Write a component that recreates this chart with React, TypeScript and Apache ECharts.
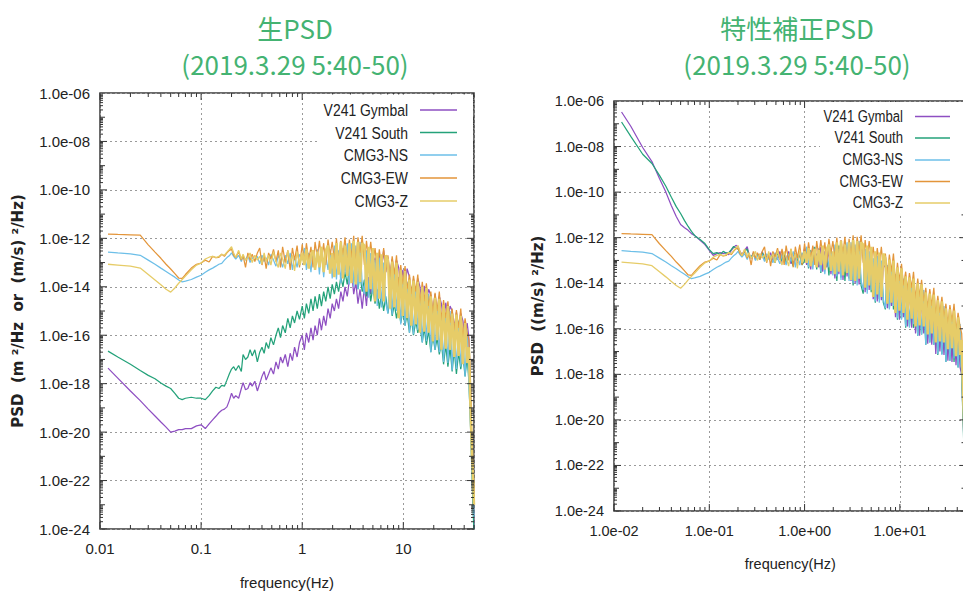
import React, { useEffect, useRef } from 'react';
import * as echarts from 'echarts';

// frequency (Hz)
const freq = [
  0.012, 0.015, 0.02, 0.025, 0.03, 0.035, 0.04, 0.045, 0.05, 0.055, 0.06, 0.065, 0.07, 0.08, 0.09, 0.1, 0.11, 0.12, 0.13, 0.14, 0.15, 0.16, 0.17, 0.18, 0.19,
  0.2, 0.21, 0.22, 0.235, 0.25, 0.26, 0.275, 0.29, 0.305, 0.32, 0.34, 0.36, 0.38, 0.4, 0.42, 0.44, 0.465, 0.49, 0.52, 0.55, 0.58, 0.61, 0.64, 0.68, 0.72, 0.76, 0.8, 0.84, 0.89, 0.94,
  1.0, 1.05, 1.1, 1.16, 1.22, 1.28, 1.34, 1.41,
  1.48, 1.55, 1.63, 1.71, 1.8, 1.89, 1.98,
  2.08, 2.18, 2.29, 2.41, 2.53, 2.65, 2.79, 2.93,
  3.07, 3.23, 3.39, 3.56, 3.73, 3.92,
  4.12, 4.32, 4.54, 4.76, 5.0,
  5.25, 5.52, 5.79, 6.08, 6.39, 6.7,
  7.04, 7.39, 7.76, 8.15, 8.56,
  8.99, 9.43, 9.9, 10.4, 10.9,
  11.5, 12.0, 12.6, 13.3, 13.9,
  14.6, 15.4, 16.1, 16.9, 17.8,
  18.7, 19.6, 20.6, 21.6, 22.7,
  23.8, 25.0, 26.3, 27.6, 29.0,
  30.4, 31.9, 33.5, 35.2, 37.0,
  38.8, 40.8, 42.8,
  44.5, 46.0, 47.0, 47.8, 48.5, 49.0, 49.5, 50,
];

// 生PSD: V241 Gymbal
const rawGymbal = [
  4.4e-18, 1.7e-18, 5e-19, 2e-19, 8.9e-20, 4.6e-20, 2.6e-20, 1.6e-20, 1e-20, 1.1e-20, 1.26e-20, 1.26e-20, 1.4e-20, 1.4e-20, 1.8e-20, 2e-20, 1.4e-20, 2.2e-20, 3.2e-20, 4.5e-20, 6.3e-20, 8e-20, 8.9e-20, 1.1e-19, 2e-19,
  4e-19, 2.5e-19, 3.2e-19, 2.5e-19, 6.3e-19, 1.1e-18, 5.6e-19, 6.3e-19, 1.1e-18, 7.9e-19, 1.26e-18, 5e-19, 1e-18, 2e-18, 3.2e-18, 1.4e-18, 2.5e-18, 4.5e-18, 2.5e-18, 7.9e-18, 4e-18, 1.26e-17, 7.1e-18, 1.6e-17, 5e-18, 1.8e-17, 8.9e-18, 3.2e-17, 1.26e-17, 5e-17,
  1e-16, 2.5e-17, 1.26e-16, 5e-17, 2e-16, 6.3e-17, 2.5e-16, 1e-16,
  5e-16, 1.6e-16, 6.3e-16, 2.5e-16, 1.26e-15, 5e-16, 2e-15,
  1e-15, 3.2e-15, 1.26e-15, 6.3e-15, 2.5e-15, 1e-14, 4e-15, 2e-14,
  5e-14, 5e-15, 1.6e-14, 2e-15, 7.9e-15, 1.26e-15,
  1e-14, 1.6e-15, 2.5e-14, 5e-15, 6.3e-14,
  1.6e-13, 2.5e-14, 2.5e-13, 5e-14, 3.2e-13, 4e-14,
  1.6e-13, 3.2e-14, 1.4e-13, 2.5e-14, 1.26e-13,
  6.3e-14, 1.26e-14, 5e-14, 1e-14, 5.6e-14,
  2.5e-14, 5e-15, 2e-14, 4e-15, 2.2e-14,
  1e-14, 2e-15, 1.1e-14, 2.5e-15, 7.9e-15,
  4.5e-15, 1e-15, 5e-15, 7.9e-16, 4e-15,
  2e-15, 4e-16, 2.2e-15, 5e-16, 1.6e-15,
  1e-15, 2e-16, 8.9e-16, 1.6e-16, 7.9e-16,
  4e-16, 7.9e-17, 3.2e-16,
  7.9e-17, 1e-18, 1.6e-20, 1e-21, 1e-22, 1.6e-23, 3.2e-24, 1e-24,
];

// 生PSD: V241 South
const rawSouth = [
  2.2e-17, 1.26e-17, 6.3e-18, 3.5e-18, 2.2e-18, 1.6e-18, 1.07e-18, 7.9e-19, 6.3e-19, 4e-19, 2.5e-19, 2.2e-19, 2.5e-19, 2.75e-19, 2.5e-19, 2.5e-19, 2.2e-19, 3.2e-19, 5e-19, 7.1e-19, 6.3e-19, 8.5e-19, 7.9e-19, 1.4e-18, 2.5e-18,
  4e-18, 5e-18, 3.5e-18, 5.6e-18, 3.2e-18, 1.6e-17, 1e-17, 1.26e-17, 2.5e-17, 1.4e-17, 2.5e-17, 7.9e-18, 2e-17, 3.2e-17, 1.8e-17, 5e-17, 2.8e-17, 7.9e-17, 4e-17, 1e-16, 2e-16, 7.9e-17, 2.5e-16, 1.26e-16, 5e-16, 2e-16, 6.3e-16, 3.2e-16, 1e-15, 4.5e-16,
  1.6e-15, 5e-16, 2e-15, 7.9e-16, 3.2e-15, 1e-15, 4e-15, 1.26e-15,
  5e-15, 1.6e-15, 6.3e-15, 2.5e-15, 1e-14, 3.2e-15, 1.26e-14,
  5e-15, 1.6e-14, 6.3e-15, 2.5e-14, 1e-14, 4e-14, 1.26e-14, 6.3e-14,
  1.26e-13, 1.6e-14, 6.3e-14, 7.9e-15, 3.2e-14, 6.3e-15,
  2e-14, 4e-15, 1.6e-14, 2.5e-15, 1e-14,
  2e-15, 7.9e-15, 1.26e-15, 5e-15, 1e-15, 4e-15,
  7.9e-16, 3.2e-15, 6.3e-16, 2e-15, 5e-16,
  1.6e-15, 3.2e-16, 1e-15, 2.5e-16, 7.9e-16,
  1.26e-16, 5e-16, 1e-16, 4e-16, 1.26e-16,
  2.5e-16, 5e-17, 2e-16, 4e-17, 1.6e-16,
  2e-17, 1e-16, 2.5e-17, 7.9e-17, 1.6e-17,
  5e-17, 6.3e-18, 4e-17, 5e-18, 3.2e-17,
  3.2e-18, 2.5e-17, 2.5e-18, 2e-17, 4e-18,
  1.6e-17, 2e-18, 1.26e-17,
  1.26e-18, 3.2e-20, 1.6e-21, 1.6e-22, 2.5e-23, 6.3e-24, 2e-24, 1e-24,
];

// 特性補正PSD: V241 Gymbal
const corGymbal = [
  3.3e-7, 7.8e-8, 9.1e-9, 2.2e-9, 4e-10, 1e-10, 2.5e-11, 8.5e-12, 3.8e-12, 2.75e-12, 2.1e-12, 1.5e-12, 1.26e-12, 7.6e-13, 5e-13, 2.75e-13, 1.66e-13, 2e-13, 2.2e-13, 2e-13, 2.2e-13, 1.8e-13, 2.75e-13, 3.7e-13, 4.6e-13,
  4e-13, 2.5e-13, 1.8e-13, 2.8e-13, 4e-13, 2e-13, 1.26e-13, 2.2e-13, 1.1e-13, 2e-13, 1.4e-13, 2.5e-13, 1e-13, 1.8e-13, 1.26e-13, 2.2e-13, 8.9e-14, 2e-13, 1.1e-13, 2.5e-13, 7.9e-14, 1.8e-13, 1.1e-13, 2.5e-13, 7.1e-14, 2e-13, 1.26e-13, 6.3e-14, 2.5e-13, 1e-13,
  3.2e-13, 6.3e-14, 2.5e-13, 4e-14, 4e-13, 7.9e-14, 2e-13, 5e-14,
  4e-13, 3.2e-14, 2.5e-13, 5e-14, 3.2e-13, 2.5e-14, 2e-13,
  1.6e-14, 4e-13, 2.5e-14, 5e-13, 1.4e-14, 3.2e-13, 2e-14, 4e-13,
  1.26e-14, 5e-13, 1e-14, 4e-13, 8.9e-15, 3.2e-13,
  2.5e-13, 4e-15, 2e-13, 5e-15, 1.6e-13,
  2e-15, 1e-13, 1.6e-15, 7.9e-14, 1.8e-15, 6.3e-14,
  5e-14, 7.9e-16, 4e-14, 1e-15, 3.2e-14,
  3.2e-16, 1.6e-14, 2.5e-16, 1.26e-14, 3.2e-16,
  7.9e-15, 1.26e-16, 6.3e-15, 1.1e-16, 5e-15,
  6.3e-17, 3.2e-15, 5e-17, 2.5e-15, 6.3e-17,
  1.26e-15, 2.2e-17, 1e-15, 2e-17, 7.9e-16,
  7.9e-18, 5e-16, 1e-17, 4e-16, 7.1e-18,
  2.5e-16, 4e-18, 2e-16, 3.5e-18, 1.6e-16,
  2.5e-18, 1e-16, 2e-18,
  1e-18, 1.6e-20, 1e-21, 1e-22, 1.6e-23, 4e-24, 1.6e-24, 1e-24,
];

// 特性補正PSD: V241 South
const corSouth = [
  1.2e-7, 2.8e-8, 4.6e-9, 1.8e-9, 5.4e-10, 1.8e-10, 5.9e-11, 2.3e-11, 1.15e-11, 5.6e-12, 3.1e-12, 1.9e-12, 1.26e-12, 8.3e-13, 5.5e-13, 3e-13, 2e-13, 2.2e-13, 1.8e-13, 2.5e-13, 2.1e-13, 2.2e-13, 3e-13, 4.1e-13, 3.5e-13,
  3.2e-13, 2.2e-13, 1.6e-13, 2.5e-13, 3.2e-13, 1.6e-13, 1.4e-13, 2e-13, 1.26e-13, 1.8e-13, 1.1e-13, 2.2e-13, 1.4e-13, 1e-13, 2e-13, 1.26e-13, 1.8e-13, 7.9e-14, 2.2e-13, 1.26e-13, 1e-13, 2.2e-13, 7.1e-14, 1.6e-13, 1.1e-13, 5.6e-14, 2e-13, 1e-13, 1.8e-13, 6.3e-14,
  1e-13, 3.5e-13, 4.5e-14, 2.8e-13, 6.3e-14, 4e-13, 4e-14, 2.5e-13,
  2.8e-14, 3.5e-13, 4e-14, 2.5e-13, 2.2e-14, 3.2e-13, 3.2e-14,
  3.2e-13, 1.26e-14, 4.5e-13, 1.8e-14, 2.5e-13, 1.26e-14, 3.5e-13, 1.6e-14,
  4e-13, 7.9e-15, 3.2e-13, 1.1e-14, 2.5e-13, 7.9e-15,
  3.5e-15, 2e-13, 5e-15, 1.26e-13, 4e-15,
  7.9e-14, 1.4e-15, 1e-13, 2e-15, 6.3e-14, 1.4e-15,
  7.1e-16, 4e-14, 7.9e-16, 3.2e-14, 7.1e-16,
  2e-14, 2.5e-16, 1.26e-14, 2.8e-16, 1e-14,
  1.1e-16, 6.3e-15, 1.26e-16, 5e-15, 1.1e-16,
  2.5e-15, 5e-17, 2e-15, 5.6e-17, 1.6e-15,
  2e-17, 1e-15, 2.5e-17, 7.9e-16, 2e-17,
  4e-16, 7.1e-18, 3.2e-16, 7.9e-18, 3.2e-16,
  3.5e-18, 1.6e-16, 4e-18, 1.26e-16, 3.5e-18,
  7.9e-17, 2e-18, 6.3e-17,
  7.9e-19, 1e-20, 5e-22, 6.3e-23, 1e-23, 3.2e-24, 1.26e-24, 1e-24,
];

// CMG3 (same in both panels)
const cmgNS = [
  2.7e-13, 2.5e-13, 2.3e-13, 2e-13, 1.26e-13, 8.5e-14, 5.9e-14, 4.3e-14, 3.2e-14, 2.5e-14, 1.9e-14, 1.6e-14, 1.7e-14, 2e-14, 2.5e-14, 3e-14, 4e-14, 5e-14, 5.9e-14, 7.1e-14, 8.5e-14, 9.3e-14, 1.26e-13, 1.6e-13, 1.9e-13,
  2.5e-13, 1.8e-13, 1.4e-13, 2e-13, 1.1e-13, 1.8e-13, 1.26e-13, 2e-13, 1e-13, 1.6e-13, 1.26e-13, 1.8e-13, 8.9e-14, 2e-13, 1.1e-13, 1.6e-13, 7.9e-14, 2.2e-13, 1.26e-13, 7.1e-14, 2e-13, 1.26e-13, 6.3e-14, 2e-13, 8.9e-14, 2.5e-13, 5e-14, 1.8e-13, 6.3e-14, 2.2e-13,
  1.26e-13, 4e-13, 5e-14, 2.5e-13, 4e-14, 3.2e-13, 6.3e-14, 3.5e-13,
  3.2e-14, 3.2e-13, 2.5e-14, 2e-13, 5e-14, 3.5e-13, 2.2e-14,
  5e-13, 2e-14, 3.2e-13, 1.4e-14, 4e-13, 3.2e-14, 6.3e-13, 1.26e-14,
  6.3e-13, 1e-14, 5e-13, 7.9e-15, 7.1e-13, 1.26e-14,
  5e-15, 3.2e-13, 3.5e-15, 2.5e-13, 5e-15,
  1.26e-13, 1.6e-15, 1.6e-13, 1.4e-15, 1e-13, 2e-15,
  7.9e-16, 6.3e-14, 7.1e-16, 5e-14, 1e-15,
  2.5e-14, 2.8e-16, 2e-14, 2.5e-16, 1.6e-14,
  1.26e-16, 7.9e-15, 1.1e-16, 1e-14, 1.6e-16,
  4e-15, 5e-17, 3.2e-15, 5.6e-17, 5e-15,
  2e-17, 1.6e-15, 2.5e-17, 1.26e-15, 2e-17,
  7.9e-16, 7.9e-18, 6.3e-16, 7.1e-18, 1e-15,
  3.5e-18, 3.2e-16, 4e-18, 4e-16, 5e-18,
  1.26e-16, 2e-18, 1.6e-16,
  1.26e-18, 3.2e-20, 2.5e-21, 3.2e-22, 1e-22, 3.2e-23, 1e-23, 3.2e-24,
];

const cmgEW = [
  1.5e-12, 1.45e-12, 1.4e-12, 1.35e-12, 5.4e-13, 2.7e-13, 1.5e-13, 8.5e-14, 5.4e-14, 3.5e-14, 2.3e-14, 2.2e-14, 3.2e-14, 5.9e-14, 8.5e-14, 9.5e-14, 1.26e-13, 1.05e-13, 1.8e-13, 1.6e-13, 1.65e-13, 2.2e-13, 1.8e-13, 2.5e-13, 3.2e-13,
  3.5e-13, 2e-13, 1.6e-13, 2.8e-13, 1.26e-13, 2e-13, 6.3e-14, 2.5e-13, 1.26e-13, 2.2e-13, 1.1e-13, 2.5e-13, 4e-13, 7.9e-14, 2e-13, 5.6e-14, 2.5e-13, 1.4e-13, 3.5e-13, 1.1e-13, 3.2e-13, 6.3e-14, 4.5e-13, 1e-13, 3.2e-13, 5e-14, 4e-13, 1.26e-13, 5e-13, 6.3e-14,
  5.6e-13, 1e-13, 6.3e-13, 1.26e-13, 4.5e-13, 6.3e-14, 7.1e-13, 1.6e-13,
  7.9e-13, 1.26e-13, 6.3e-13, 7.9e-14, 8.9e-13, 2e-13, 7.1e-13,
  1.26e-13, 1e-12, 1e-13, 7.9e-13, 2e-13, 1.1e-12, 7.9e-14, 8.9e-13,
  1.6e-13, 1.26e-12, 1e-13, 1.1e-12, 2.5e-13, 1.26e-12,
  7.9e-14, 7.9e-13, 1.26e-13, 7.1e-13, 1e-13,
  4e-13, 5e-14, 3.5e-13, 6.3e-14, 4e-13, 4e-14,
  2e-13, 2.5e-14, 1.8e-13, 3.2e-14, 2e-13,
  1e-14, 7.9e-14, 1.26e-14, 7.1e-14, 7.9e-15,
  3.2e-14, 5e-15, 2.8e-14, 6.3e-15, 3.2e-14,
  2e-15, 1.6e-14, 2.5e-15, 1.4e-14, 1.6e-15,
  6.3e-15, 7.9e-16, 5.6e-15, 1e-15, 6.3e-15,
  4e-16, 2.8e-15, 5e-16, 2.5e-15, 3.2e-16,
  1.26e-15, 1.6e-16, 1.1e-15, 2e-16, 1.26e-15,
  7.9e-17, 5e-16, 1.26e-16,
  6.3e-17, 2.5e-18, 6.3e-20, 4e-21, 1e-21, 3.2e-22, 1e-22, 3.2e-23,
];

const cmgZ = [
  8.5e-14, 7.9e-14, 7.1e-14, 5.9e-14, 3.2e-14, 1.9e-14, 1.2e-14, 7.9e-15, 6e-15, 8.9e-15, 1.4e-14, 2e-14, 2.75e-14, 5e-14, 7.9e-14, 9.5e-14, 1.4e-13, 1.66e-13, 1.8e-13, 1.6e-13, 1.8e-13, 2.2e-13, 2e-13, 2.7e-13, 3.5e-13,
  4.5e-13, 2.5e-13, 1.6e-13, 3.2e-13, 1.4e-13, 2.2e-13, 1.26e-13, 1.6e-13, 2.5e-13, 1e-13, 2e-13, 1.26e-13, 1.8e-13, 8.9e-14, 2.5e-13, 1.1e-13, 2e-13, 7.9e-14, 2.8e-13, 1.1e-13, 6.3e-14, 2.5e-13, 1.4e-13, 5.6e-14, 3.2e-13, 1e-13, 2e-13, 4.5e-14, 2.8e-13, 7.9e-14,
  2.5e-13, 7.9e-14, 3.5e-13, 5.6e-14, 2e-13, 3.2e-13, 5e-14, 2.8e-13,
  6.3e-14, 4.5e-13, 4e-14, 3.2e-13, 5e-13, 3.5e-14, 2.5e-13,
  2.5e-14, 6.3e-13, 3.2e-14, 7.1e-13, 2.2e-14, 5e-13, 2.8e-14, 6.3e-13,
  1.4e-14, 7.9e-13, 1.26e-14, 7.1e-13, 1.6e-14, 6.3e-13,
  5e-13, 6.3e-15, 4.5e-13, 7.9e-15, 4e-13,
  2.5e-15, 2.5e-13, 3.2e-15, 2.2e-13, 2.5e-15, 2e-13,
  1.26e-13, 1.26e-15, 1.1e-13, 1.4e-15, 1e-13,
  5e-16, 5e-14, 6.3e-16, 4.5e-14, 5e-16,
  2e-14, 2.5e-16, 1.8e-14, 2.8e-16, 1.6e-14,
  1.26e-16, 1e-14, 1.4e-16, 8.9e-15, 1.26e-16,
  4e-15, 5.6e-17, 3.5e-15, 6.3e-17, 3.2e-15,
  2.5e-17, 1.8e-15, 2.8e-17, 1.6e-15, 2.5e-17,
  7.9e-16, 1.26e-17, 7.1e-16, 1.4e-17, 6.3e-16,
  6.3e-18, 3.2e-16, 7.1e-18,
  3.2e-17, 1.6e-19, 1e-20, 1e-21, 3.2e-22, 1e-22, 3.2e-23, 1e-23,
];

const seriesNames = ['V241 Gymbal', 'V241 South', 'CMG3-NS', 'CMG3-EW', 'CMG3-Z'];
const colors = ['#8e4fc2', '#24a27a', '#6dbfe8', '#e3953a', '#e6cc68'];

const xDecades = [0.01, 0.1, 1, 10];
const xLabelsLeft = ['0.01', '0.1', '1', '10'];
const xLabelsRight = ['1.0e-02', '1.0e-01', '1.0e+00', '1.0e+01'];
const yDecades = [1e-24, 1e-22, 1e-20, 1e-18, 1e-16, 1e-14, 1e-12, 1e-10, 1e-8, 1e-6];
const yLabels = ['1.0e-24', '1.0e-22', '1.0e-20', '1.0e-18', '1.0e-16', '1.0e-14', '1.0e-12', '1.0e-10', '1.0e-08', '1.0e-06'];

const titleLeft = '生PSD\n(2019.3.29 5:40-50)';
const titleRight = '特性補正PSD\n(2019.3.29 5:40-50)';
const yNameLeft = 'PSD  (m ²/Hz  or  (m/s) ²/Hz)';
const yNameRight = 'PSD  ((m/s) ²/Hz)';
const xName = 'frequency(Hz)';

// ECharts rounds very small axis bounds to 0, so PSD values are handed to the
// library in units of 1e-24; the labels still show the original values.
const UNIT = 1e24;
// index in freq where the dense (>= ~1 Hz) part starts
const DENSE_FROM = 54;

const SANS = '"Liberation Sans", Arial, sans-serif';
const GREEN = '#44b372';

const labelFor = (decades: number[], labels: string[], scale: number) => (v: number) => {
  const i = decades.findIndex((d) => Math.abs(Math.log10(v / (d * scale))) < 1e-6);
  return i >= 0 ? labels[i] : '';
};

const tickRenderer = (xMax: number) => (params: any, api: any) => {
  const cs = params.coordSys;
  const children: any[] = [];
  const style = { stroke: '#333', lineWidth: 1 };
  for (const d of xDecades) {
    for (let m = 1; m <= 9; m++) {
      const v = d * m;
      if (v > xMax * 1.0001) continue;
      const px = api.coord([v, 1e-12 * UNIT])[0];
      const len = m === 1 ? 7 : 4;
      children.push({ type: 'line', shape: { x1: px, y1: cs.y + cs.height, x2: px, y2: cs.y + cs.height - len }, style });
      children.push({ type: 'line', shape: { x1: px, y1: cs.y, x2: px, y2: cs.y + len }, style });
    }
  }
  for (let e = -24; e <= -7; e++) {
    for (let m = 1; m <= 9; m++) {
      const v = m * Math.pow(10, e) * UNIT;
      const py = api.coord([1, v])[1];
      const len = m === 1 ? (e % 2 === 0 ? 7 : 5) : 3;
      children.push({ type: 'line', shape: { x1: cs.x, y1: py, x2: cs.x + len, y2: py }, style });
      children.push({ type: 'line', shape: { x1: cs.x + cs.width, y1: py, x2: cs.x + cs.width - len, y2: py }, style });
    }
  }
  return { type: 'group', children };
};

const toPairs = (vals: number[], from = 0, to = freq.length) =>
  freq.slice(from, to).map((f, i) => [f, vals[from + i] * UNIT]);

const lineSeries = (name: string, color: string, data: number[][], gi: number, width: number) => ({
  name,
  type: 'line',
  xAxisIndex: gi,
  yAxisIndex: gi,
  data,
  showSymbol: false,
  symbol: 'none',
  silent: true,
  clip: true,
  lineStyle: { color, width },
  itemStyle: { color },
  emphasis: { disabled: true },
  z: 2,
});

const panelSeries = (arrs: number[][], gi: number) => {
  const out: any[] = [];
  arrs.forEach((vals, k) => {
    if (k === 4) {
      // CMG3-Z: the dense, strongly fluctuating part is drawn with a wider stroke
      out.push(lineSeries(seriesNames[k], colors[k], toPairs(vals, 0, DENSE_FROM + 1), gi, 1.3));
      out.push(lineSeries(seriesNames[k], colors[k], toPairs(vals, DENSE_FROM), gi, 2.5));
    } else {
      out.push(lineSeries(seriesNames[k], colors[k], toPairs(vals), gi, 1.25));
    }
  });
  return out;
};

const legendGraphic = (textRight: number, lineX1: number, lineX2: number, rows: number[], fontSize: number, box: number[]) => {
  const els: any[] = [
    { type: 'rect', shape: { x: box[0], y: box[1], width: box[2], height: box[3] }, style: { fill: '#fff' }, z: 100, silent: true },
  ];
  seriesNames.forEach((n, i) => {
    els.push({
      type: 'text', x: textRight, y: rows[i], z: 101, silent: true, scaleX: 0.82,
      style: { text: n, fontSize, fontFamily: SANS, fill: '#222', align: 'right', verticalAlign: 'middle' },
    });
    els.push({
      type: 'line', z: 101, silent: true,
      shape: { x1: lineX1, y1: rows[i], x2: lineX2, y2: rows[i] },
      style: { stroke: colors[i], lineWidth: 1.6 },
    });
  });
  return els;
};

const makeX = (gi: number, labels: string[], fontSize: number, margin: number, nameGap: number) => ({
  type: 'log', logBase: 10, gridIndex: gi, min: 0.01, max: 50,
  axisLine: { show: false }, axisTick: { show: false },
  splitLine: { show: true, lineStyle: { type: [2, 3], color: '#9a9a9a', width: 1 } },
  axisLabel: { formatter: labelFor(xDecades, labels, 1), margin, fontSize, fontFamily: SANS, color: '#222', showMinLabel: true, showMaxLabel: true },
  name: xName, nameLocation: 'middle', nameGap,
  nameTextStyle: { fontSize, fontFamily: SANS, color: '#222' },
});

const makeY = (gi: number, name: string, fontSize: number, nameSize: number, margin: number, nameGap: number) => ({
  type: 'log', logBase: 10, gridIndex: gi, min: 1e-24 * UNIT, max: 1e-6 * UNIT, interval: 2,
  axisLine: { show: false }, axisTick: { show: false },
  splitLine: { show: true, lineStyle: { type: [2, 3], color: '#9a9a9a', width: 1 } },
  axisLabel: { formatter: labelFor(yDecades, yLabels, UNIT), margin, fontSize, fontFamily: SANS, color: '#222' },
  name, nameLocation: 'middle', nameGap, nameRotate: 90,
  nameTextStyle: { fontSize: nameSize, fontFamily: '"DejaVu Sans", sans-serif', fontWeight: 'bold', color: '#222' },
});

export default function App() {
  const ref = useRef<HTMLDivElement>(null);
  useEffect(() => {
    if (!ref.current) return;
    const chart = echarts.init(ref.current, null, { renderer: 'svg' });
    const option: any = {
      animation: false,
      backgroundColor: '#fff',
      title: [
        { text: titleLeft, left: 290, top: 4, textAlign: 'center', textStyle: { color: GREEN, fontSize: 26, lineHeight: 36, fontWeight: 'normal', fontFamily: '"Noto Sans CJK JP", sans-serif' } },
        { text: titleRight, left: 792, top: 4, textAlign: 'center', textStyle: { color: GREEN, fontSize: 26, lineHeight: 36, fontWeight: 'normal', fontFamily: '"Noto Sans CJK JP", sans-serif' } },
      ],
      grid: [
        { left: 100, top: 93, width: 374, height: 436, show: true, borderColor: '#3a3a3a', borderWidth: 1.5, backgroundColor: 'transparent' },
        { left: 614, top: 101, width: 352.5, height: 410, show: true, borderColor: '#3a3a3a', borderWidth: 1.5, backgroundColor: 'transparent' },
      ],
      xAxis: [makeX(0, xLabelsLeft, 15, 12, 46), makeX(1, xLabelsRight, 14.5, 12, 45)],
      yAxis: [makeY(0, yNameLeft, 15, 15, 10, 75), makeY(1, yNameRight, 14.5, 15, 10, 69)],
      series: [
        ...panelSeries([rawGymbal, rawSouth, cmgNS, cmgEW, cmgZ], 0),
        ...panelSeries([corGymbal, corSouth, cmgNS, cmgEW, cmgZ], 1),
        { type: 'custom', xAxisIndex: 0, yAxisIndex: 0, data: [[1, 1e-12 * UNIT]], renderItem: tickRenderer(50), silent: true, clip: false, z: 5 },
        { type: 'custom', xAxisIndex: 1, yAxisIndex: 1, data: [[1, 1e-12 * UNIT]], renderItem: tickRenderer(50), silent: true, clip: false, z: 5 },
      ],
      graphic: {
        elements: [
          ...legendGraphic(408, 420, 457, [110, 132.5, 155, 178, 201], 17, [318, 94.5, 155, 115]),
          ...legendGraphic(903, 915, 950, [116.5, 138, 160, 181.5, 203], 16, [820, 102, 145, 111]),
        ],
      },
    };
    chart.setOption(option);
    return () => chart.dispose();
  }, []);
  return (
    <div style={{ position: 'fixed', left: 0, top: 0, width: 963, height: 598, overflow: 'hidden', background: '#fff' }}>
      <div ref={ref} style={{ width: 975, height: 598 }} />
    </div>
  );
}
